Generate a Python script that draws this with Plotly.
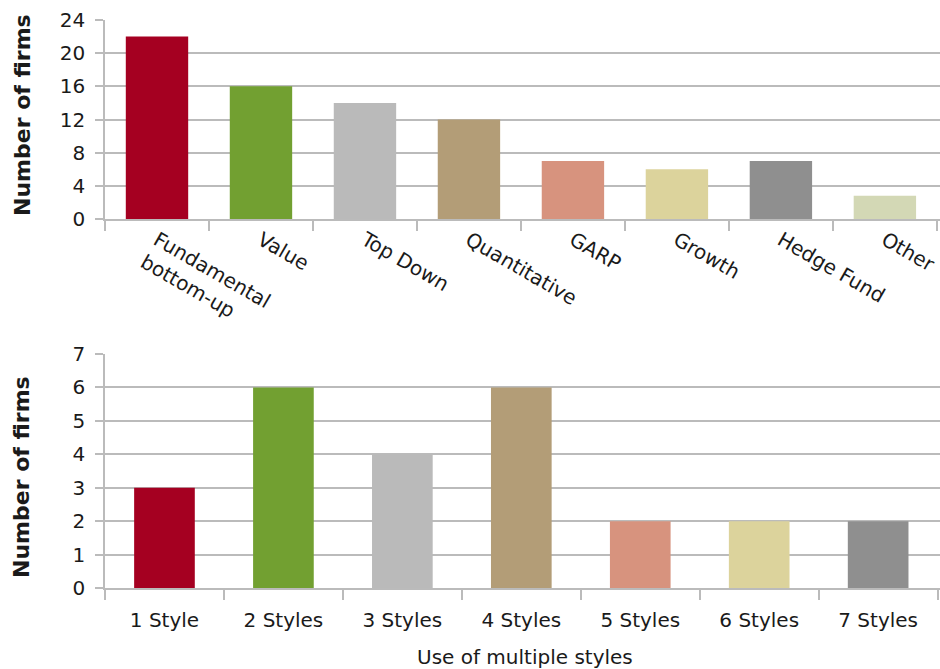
import plotly.graph_objects as go

# Investment styles used by firms
styles = ["Fundamental<br>bottom-up", "Value", "Top Down", "Quantitative",
          "GARP", "Growth", "Hedge Fund", "Other"]
style_firms = [22, 16, 14, 12, 7, 6, 7, 2.8]
style_colors = ["#A50021", "#72A031", "#BABABA", "#B39D77",
                "#D7937E", "#DCD39C", "#8F8F8F", "#D3D8B5"]

# Number of styles combined by each firm
multi_labels = ["1 Style", "2 Styles", "3 Styles", "4 Styles",
                "5 Styles", "6 Styles", "7 Styles"]
multi_firms = [3, 6, 4, 6, 2, 2, 2]
multi_colors = style_colors[:7]

top_ticks = [0, 4, 8, 12, 16, 20, 24]
bottom_ticks = [0, 1, 2, 3, 4, 5, 6, 7]

FONT = "DejaVu Sans"
GRID = "#BBBBBB"
TEXT = "#1A1A1A"
W, H = 940, 669

fig = go.Figure()
fig.add_trace(go.Bar(x=styles, y=style_firms, marker=dict(color=style_colors, line=dict(width=0)),
                     width=0.6, xaxis="x", yaxis="y", showlegend=False))
fig.add_trace(go.Bar(x=multi_labels, y=multi_firms, marker=dict(color=multi_colors, line=dict(width=0)),
                     width=0.51, xaxis="x2", yaxis="y2", showlegend=False))

x_left = 105 / W


def ydom(top_px, bottom_px):
    return [1 - bottom_px / H, 1 - top_px / H]


common_x = dict(showgrid=False, showline=True, linecolor=GRID, linewidth=1.5,
                ticks="outside", tickson="boundaries", ticklen=10, tickwidth=1.5,
                tickcolor=GRID, tickfont=dict(family=FONT, size=20, color=TEXT),
                automargin=False, fixedrange=True)
common_y = dict(showgrid=True, gridcolor=GRID, gridwidth=1.5, showline=True,
                linecolor=GRID, linewidth=1.5, ticks="outside", ticklen=8,
                tickwidth=1.5, tickcolor=GRID, zeroline=False,
                tickfont=dict(family=FONT, size=20, color=TEXT),
                ticklabelstandoff=6, automargin=False, fixedrange=True)

fig.update_layout(
    width=W, height=H,
    margin=dict(l=0, r=0, t=0, b=0),
    paper_bgcolor="white", plot_bgcolor="white",
    bargap=0.4,
    xaxis=dict(domain=[x_left, 1], anchor="y", tickangle=30,
               range=[-0.5, 7.53], **common_x),
    yaxis=dict(domain=ydom(20, 219), anchor="x", range=[0, 24],
               tickvals=top_ticks, **common_y),
    xaxis2=dict(domain=[x_left, 1], anchor="y2", range=[-0.5, 6.52],
                ticklabelstandoff=13, **common_x),
    yaxis2=dict(domain=ydom(354, 588), anchor="x2", range=[0, 7],
                tickvals=bottom_ticks, **common_y),
    annotations=[
        dict(text="<b>Number of firms</b>", x=22 / W, y=1 - 115 / H, xref="paper", yref="paper",
             xanchor="center", yanchor="middle",
             textangle=-90, showarrow=False, font=dict(family=FONT, size=22, color=TEXT)),
        dict(text="<b>Number of firms</b>", x=22 / W, y=1 - 477 / H, xref="paper", yref="paper",
             xanchor="center", yanchor="middle",
             textangle=-90, showarrow=False, font=dict(family=FONT, size=22, color=TEXT)),
        dict(text="Use of multiple styles", x=525 / W, y=1 - 657 / H, xref="paper", yref="paper",
             xanchor="center", yanchor="middle",
             showarrow=False, font=dict(family=FONT, size=20, color=TEXT)),
    ],
)

fig.write_html("out.html", config={"displayModeBar": False})
